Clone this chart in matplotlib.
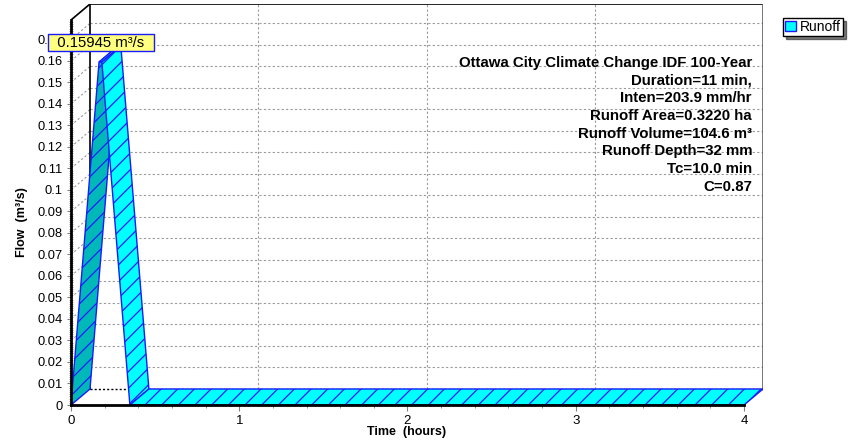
import numpy as np
import matplotlib
matplotlib.use("Agg")
from matplotlib import pyplot as plt
from matplotlib.patches import Polygon

plt.rcParams['font.family'] = ['Liberation Sans', 'DejaVu Sans']
plt.rcParams['hatch.color'] = '#0000ff'
plt.rcParams['hatch.linewidth'] = 0.9

# hydrograph (rational method, Tc=10 min, duration=11 min)
time_hr = [0.0, 0.1667, 0.1833, 0.35, 4.0]
flow_cms = [0.0, 0.15945, 0.15945, 0.0, 0.0]
peak_label = "0.15945 m\u00b3/s"

y_ticks = [0.0, 0.01, 0.02, 0.03, 0.04, 0.05, 0.06, 0.07, 0.08, 0.09,
           0.10, 0.11, 0.12, 0.13, 0.14, 0.15, 0.16, 0.17]
y_labels = ['0', '0.01', '0.02', '0.03', '0.04', '0.05', '0.06', '0.07', '0.08',
            '0.09', '0.1', '0.11', '0.12', '0.13', '0.14', '0.15', '0.16', '0.17']
x_ticks = [0, 1, 2, 3, 4]
x_labels = ['0', '1', '2', '3', '4']
grid_x = [1, 2, 3]

info_lines = ["Ottawa City Climate Change IDF 100-Year",
              "Duration=11 min,",
              "Inten=203.9 mm/hr",
              "Runoff Area=0.3220 ha",
              "Runoff Volume=104.6 m\u00b3",
              "Runoff Depth=32 mm",
              "Tc=10.0 min",
              "C=0.87"]

# 3d depth offset, in data units
DX = 0.113
DY = 0.00744
XMAX = 4.0
YTOP = 0.179

fig = plt.figure(figsize=(8.61, 4.43), dpi=100)
ax = fig.add_axes([71 / 861, 38 / 443, 692 / 861, 401 / 443])
ax.set_xlim(0, XMAX + DX)
ax.set_ylim(0, YTOP + DY)

for s in ['top', 'right']:
    ax.spines[s].set_visible(False)
ax.spines['left'].set_bounds(0, YTOP)
ax.spines['bottom'].set_bounds(0, XMAX)
ax.spines['left'].set_linewidth(2)
ax.spines['bottom'].set_linewidth(2)
ax.spines['left'].set_zorder(6)
ax.spines['bottom'].set_zorder(6)

ax.set_yticks(y_ticks)
ax.set_yticklabels(y_labels, fontsize=9.3)
ax.set_yticks(np.arange(0, 0.1785, 0.001), minor=True)
ax.set_xticks(x_ticks)
ax.set_xticklabels(x_labels, fontsize=9.5)
ax.set_xticks(np.arange(0, 4.01, 0.2), minor=True)
ax.tick_params(axis='y', which='major', length=3, color='#808080', pad=3)
ax.tick_params(axis='y', which='minor', length=2.5, direction='inout',
               color='#909090', width=0.6)
ax.tick_params(axis='x', which='major', length=4, color='#808080', pad=3)
ax.tick_params(axis='x', which='minor', length=2.5, color='#808080')

grid_kw = dict(color='#9a9a9a', lw=0.8, ls=(0, (2, 2)), zorder=1)
# back wall grid
for v in y_ticks[1:]:
    ax.plot([DX, XMAX + DX], [v + DY, v + DY], **grid_kw)
    ax.plot([0, DX], [v, v + DY], **grid_kw)
for g in grid_x:
    ax.plot([g + DX, g + DX], [DY, YTOP + DY], **grid_kw)

# walls
ax.plot([DX, XMAX + DX], [YTOP + DY, YTOP + DY], color='black', lw=1.2, zorder=2)
ax.plot([DX, DX], [DY, YTOP + DY], color='black', lw=1.2, zorder=2)
ax.plot([0, DX], [YTOP, YTOP + DY], color='black', lw=1.2, zorder=2)
ax.plot([XMAX + DX, XMAX + DX], [DY, YTOP + DY], color='#606060', lw=1.2, zorder=2)
ax.plot([DX, XMAX + DX], [DY, DY], color='black', lw=1, ls=(0, (1.5, 1.5)), zorder=2)

# ribbon
for i in range(len(time_hr) - 1):
    t0, t1 = time_hr[i], time_hr[i + 1]
    q0, q1 = flow_cms[i], flow_cms[i + 1]
    face = '#00b8b8' if q1 > q0 else '#00ffff'
    pts = [(t0, q0), (t1, q1), (t1 + DX, q1 + DY), (t0 + DX, q0 + DY)]
    ax.add_patch(Polygon(pts, closed=True, facecolor=face, edgecolor='#1a1aff',
                         lw=1, hatch='//', zorder=3 + i * 0.1))

ax.annotate("  " + peak_label + "  ", xy=(time_hr[1], flow_cms[1]), xytext=(1.5, 14),
            textcoords='offset points', ha='center', va='center', fontsize=10.7,
            bbox=dict(boxstyle='square,pad=0.08', fc='#ffff80', ec='#1a1aff', lw=1),
            zorder=10, annotation_clip=False)

for k, line in enumerate(info_lines):
    fig.text(752 / 861, 1 - (63 + k * 17.7) / 443, line, ha='right', va='center',
             fontsize=10.8, fontweight='bold', zorder=8)

fig.text(22 / 861, 1 - 222 / 443, "Flow  (m\u00b3/s)", rotation=90, ha='center',
         va='center', fontsize=9, fontweight='bold')
fig.text(407 / 861, 1 - 432 / 443, "Time  (hours)", ha='center', va='center',
         fontsize=9, fontweight='bold')

leg_handle = Polygon([(0, 0)], facecolor='#00ffff', edgecolor='#1a1aff', lw=1)
leg = fig.legend([leg_handle], ['Runoff'], loc='upper left',
                 bbox_to_anchor=(783 / 861, 1 - 18 / 443), fontsize=10,
                 frameon=True, fancybox=False, shadow={'color': 'black'},
                 handlelength=0.75, handleheight=0.75, handletextpad=0.35,
                 borderpad=0.15, borderaxespad=0)
leg.get_frame().set_edgecolor('black')
leg.get_frame().set_linewidth(1)

fig.savefig("out.png", dpi=100)
